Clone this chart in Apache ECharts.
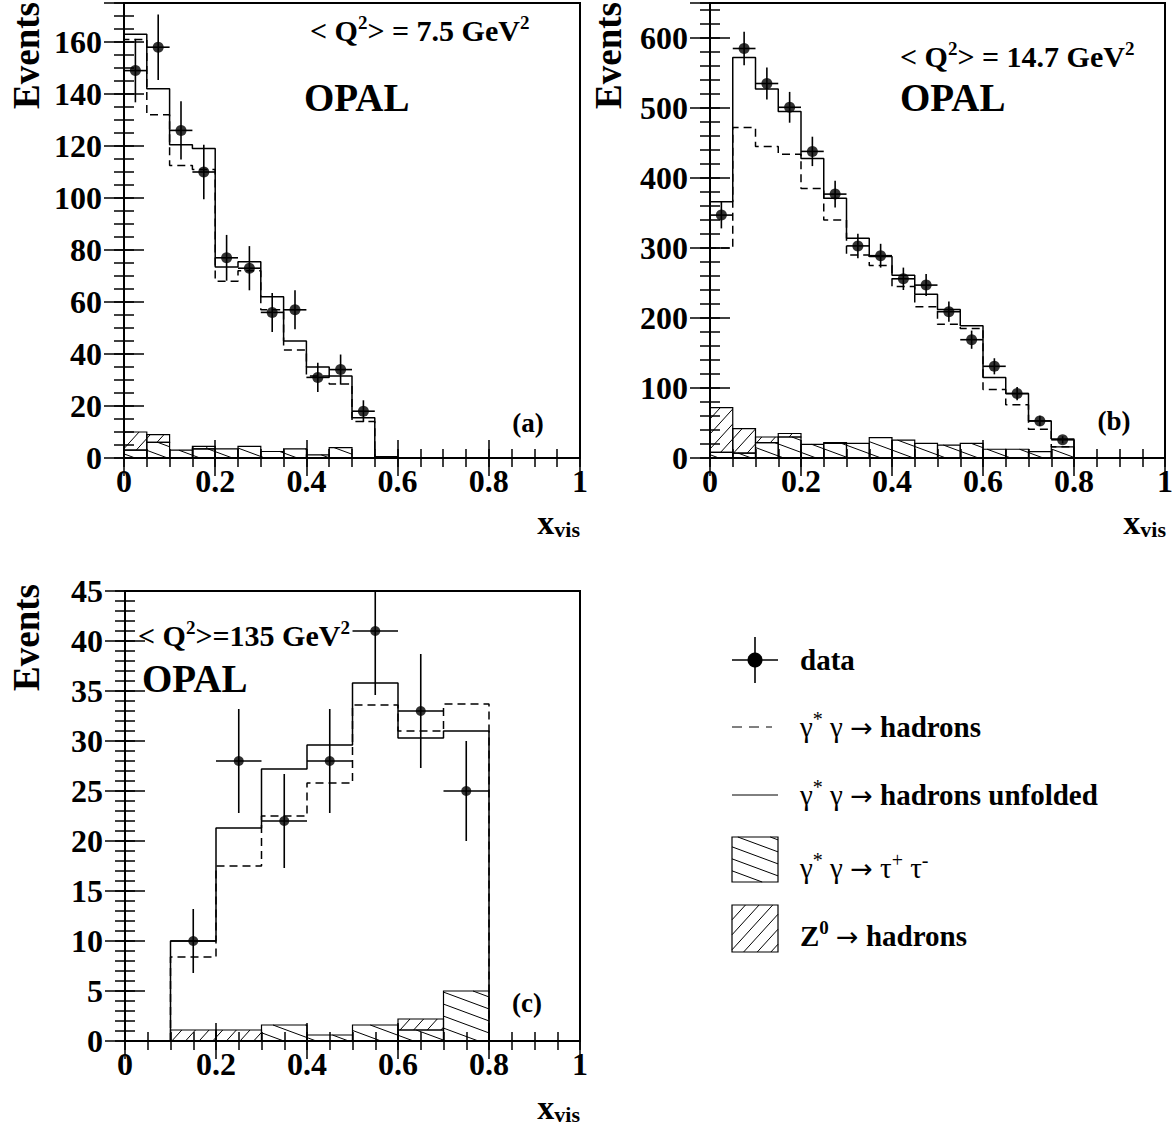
<!DOCTYPE html>
<html>
<head>
<meta charset="utf-8">
<script src="https://cdn.jsdelivr.net/npm/echarts@6/dist/echarts.min.js"></script>
<style>
  html, body { margin: 0; padding: 0; background: #fff; }
  #main { width: 1173px; height: 1128px; }
</style>
</head>
<body>
<div id="main"></div>
<script>
var SERIF = "'Liberation Serif','Times New Roman',serif";

// ---- panel (a): <Q2> = 7.5 GeV2, bins of 0.05 from 0 ----
var aStart = 0, aWidth = 0.05;
var aUnfolded = [163, 142, 120.5, 119, 73.5, 75.5, 62, 45, 35, 31.5, 15.5, 0.5];
var aHadrons  = [161, 132, 112.5, 111, 68, 72, 57, 41.5, 31.5, 28.5, 14, 0.5];
var aTau      = [3, 6, 3, 3.5, 3.5, 4.5, 2.5, 3.5, 1.2, 4, 0, 0];
var aZ0       = [7, 3, 0, 1, 0, 0, 0, 0, 0, 0, 0, 0];
var aData     = [149, 158, 126, 110, 77, 73, 56, 57, 31, 34, 18];
var aErr      = [12.2, 12.6, 11.2, 10.5, 8.8, 8.5, 7.5, 7.5, 5.6, 5.8, 4.2];

// ---- panel (b): <Q2> = 14.7 GeV2, bins of 0.05 from 0 ----
var bStart = 0, bWidth = 0.05;
var bUnfolded = [366, 572, 527, 495, 428, 371, 314, 288, 261, 234, 212, 189, 115, 92, 53, 27];
var bHadrons  = [300, 472, 445, 434, 385, 340, 290, 275, 245, 216, 191, 185, 98, 76, 41, 16];
var bTau      = [8, 7, 22, 30, 19.5, 21, 21, 29, 25.5, 21, 18.5, 21, 12.5, 12.5, 9, 16];
var bZ0       = [64, 35, 8, 5, 0, 1, 0, 0, 0, 0, 0, 0, 0, 0, 0, 0];
var bData     = [347, 585, 535, 501, 438, 377, 303, 289, 256, 247, 209, 169, 131, 92, 53, 26];
var bErr      = [19, 24, 23, 22, 21, 19, 17.5, 17, 16, 15.7, 14.5, 13, 11.5, 9.6, 7.3, 5.1];

// ---- panel (c): <Q2> = 135 GeV2, bins of 0.1 from 0.1 ----
var cStart = 0.1, cWidth = 0.1;
var cUnfolded = [10, 21.3, 27.2, 29.6, 35.8, 30.3, 31.0];
var cHadrons  = [8.4, 17.5, 22.5, 25.8, 33.6, 31.0, 33.7];
var cTau      = [0, 0, 1.6, 0.6, 1.6, 1.1, 5.0];
var cZ0       = [1.1, 1.1, 0, 0, 0, 1.1, 0];
var cData     = [10, 28, 22, 28, 41, 33, 25];
var cErr      = [3.2, 5.2, 4.7, 5.2, 6.4, 5.7, 5.0];

// axis ranges per panel
var yMax   = [175, 650, 45];
var yMajor = [20, 100, 5];
var yMinor = [5, 20, 1];

var panels = [
  { start: aStart, width: aWidth, unf: aUnfolded, had: aHadrons, tau: aTau, z0: aZ0, data: aData, err: aErr, dot: 11 },
  { start: bStart, width: bWidth, unf: bUnfolded, had: bHadrons, tau: bTau, z0: bZ0, data: bData, err: bErr, dot: 11 },
  { start: cStart, width: cWidth, unf: cUnfolded, had: cHadrons, tau: cTau, z0: cZ0, data: cData, err: cErr, dot: 10 }
];

var TAU_SLOPE = 0.37, TAU_GAP = 12;   // "\\" hatch
var Z0_SLOPE = -1.1, Z0_GAP = 15;     // "//" hatch

function histSteps(start, width, vals) {
  var pts = [[start, 0]];
  vals.forEach(function (v, i) {
    pts.push([start + i * width, v], [start + (i + 1) * width, v]);
  });
  pts.push([start + vals.length * width, 0]);
  return pts;
}

// lines y = slope*x + c clipped to the box, c on a common grid
function hatchLines(x0, y0, x1, y1, slope, gap) {
  var out = [];
  var cs = [y0 - slope * x0, y0 - slope * x1, y1 - slope * x0, y1 - slope * x1];
  var cMin = Math.min.apply(null, cs), cMax = Math.max.apply(null, cs);
  for (var c = Math.ceil(cMin / gap) * gap; c <= cMax; c += gap) {
    var xa = (y0 - c) / slope, xb = (y1 - c) / slope;
    var lo = Math.max(x0, Math.min(xa, xb)), hi = Math.min(x1, Math.max(xa, xb));
    if (hi - lo > 0.5) {
      out.push({ type: 'line', shape: { x1: lo, y1: slope * lo + c, x2: hi, y2: slope * hi + c },
                 style: { stroke: '#000', lineWidth: 1 } });
    }
  }
  return out;
}

function box(x0, y0, x1, y1) {
  return { type: 'rect', shape: { x: x0, y: y0, width: x1 - x0, height: y1 - y0 },
           style: { fill: 'none', stroke: '#000', lineWidth: 1.2 } };
}

function renderBkg(params, api) {
  var x0 = api.value(0), x1 = api.value(1), t = api.value(2), z = api.value(3);
  var pa = api.coord([x0, 0]), pb = api.coord([x1, t]), pc = api.coord([x1, t + z]);
  var kids = [];
  if (t > 0) {
    kids = kids.concat(hatchLines(pa[0], pb[1], pb[0], pa[1], TAU_SLOPE, TAU_GAP));
    kids.push(box(pa[0], pb[1], pb[0], pa[1]));
  }
  if (z > 0) {
    kids = kids.concat(hatchLines(pa[0], pc[1], pc[0], pb[1], Z0_SLOPE, Z0_GAP));
    kids.push(box(pa[0], pc[1], pc[0], pb[1]));
  }
  return { type: 'group', children: kids };
}

function renderErr(params, api) {
  var x = api.value(0), y = api.value(1), ex = api.value(2), ey = api.value(3);
  var l = api.coord([x - ex, y]), r = api.coord([x + ex, y]);
  var t = api.coord([x, y + ey]), b = api.coord([x, y - ey]);
  var st = { stroke: '#000', lineWidth: 1.6 };
  return { type: 'group', children: [
    { type: 'line', shape: { x1: l[0], y1: l[1], x2: r[0], y2: r[1] }, style: st },
    { type: 'line', shape: { x1: t[0], y1: t[1], x2: b[0], y2: b[1] }, style: st }
  ] };
}

var labelFont = { fontFamily: SERIF, fontWeight: 'bold', fontSize: 32, color: '#000' };

function makeAxis(g, pos, min, max, interval, len, withLabels, showMax) {
  var horiz = (pos === 'bottom' || pos === 'top');
  return {
    type: 'value', gridIndex: g, position: pos, min: min, max: max, interval: interval,
    axisLine: { show: false },
    splitLine: { show: false },
    axisTick: { show: true, inside: true, length: len, lineStyle: { color: '#000', width: 1.5 } },
    axisLabel: withLabels
      ? Object.assign({ show: true, margin: horiz ? 7 : 22, showMinLabel: true, showMaxLabel: showMax }, labelFont)
      : { show: false }
  };
}

var grids = [
  { left: 124, top: 3, width: 456, height: 455 },
  { left: 710, top: 3, width: 455, height: 455 },
  { left: 125, top: 591, width: 455, height: 450 }
];

var xAxes = [], yAxes = [], series = [];
grids.forEach(function (gr, g) {
  gr.show = true; gr.borderColor = '#000'; gr.borderWidth = 2; gr.backgroundColor = 'transparent';
  gr.outerBoundsMode = 'none';
  xAxes.push(makeAxis(g, 'bottom', 0, 1, 0.2, 18, true, true));
  xAxes.push(makeAxis(g, 'bottom', 0, 1, 0.05, 9, false));
  xAxes.push(makeAxis(g, 'top', 0, 1, 0.2, 18, false));
  xAxes.push(makeAxis(g, 'top', 0, 1, 0.05, 9, false));
  yAxes.push(makeAxis(g, 'left', 0, yMax[g], yMajor[g], 20, true, g === 2));
  yAxes.push(makeAxis(g, 'left', 0, yMax[g], yMinor[g], 10, false));
  yAxes.push(makeAxis(g, 'right', 0, yMax[g], yMajor[g], 20, false));
  yAxes.push(makeAxis(g, 'right', 0, yMax[g], yMinor[g], 10, false));

  var p = panels[g];
  var bkg = p.tau.map(function (t, i) {
    return [p.start + i * p.width, p.start + (i + 1) * p.width, t, p.z0[i]];
  });
  var pts = p.data.map(function (v, i) {
    return [p.start + (i + 0.5) * p.width, v, p.width / 2, p.err[i]];
  });
  var ax = { xAxisIndex: 4 * g, yAxisIndex: 4 * g };
  series.push(Object.assign({ type: 'custom', renderItem: renderBkg, data: bkg, clip: true, z: 2 }, ax));
  series.push(Object.assign({ type: 'line', data: histSteps(p.start, p.width, p.had), symbol: 'none',
    lineStyle: { color: '#000', width: 1.5, type: [8, 5] }, z: 3 }, ax));
  series.push(Object.assign({ type: 'line', data: histSteps(p.start, p.width, p.unf), symbol: 'none',
    lineStyle: { color: '#000', width: 1.5 }, z: 4 }, ax));
  series.push(Object.assign({ type: 'custom', renderItem: renderErr, data: pts, clip: true, z: 5 }, ax));
  series.push(Object.assign({ type: 'scatter', data: pts.map(function (d) { return [d[0], d[1]]; }),
    symbol: 'circle', symbolSize: p.dot, itemStyle: { color: '#000' }, z: 6 }, ax));
});

// ---- text and legend ----
function txt(x, y, text, rich, extra) {
  return Object.assign({ type: 'text', x: x, y: y, z: 50,
    style: Object.assign({ text: text, rich: rich, fill: '#000', align: 'left', verticalAlign: 'middle' }, extra || {}) });
}
var qRich = {
  t: { fontFamily: SERIF, fontWeight: 'bold', fontSize: 30, lineHeight: 34 },
  s: { fontFamily: SERIF, fontWeight: 'bold', fontSize: 19, lineHeight: 17, verticalAlign: 'top' }
};
var opalRich = { o: { fontFamily: SERIF, fontWeight: 'bold', fontSize: 39 } };
var tagRich = { o: { fontFamily: SERIF, fontWeight: 'bold', fontSize: 27 } };
var xRich = {
  x: { fontFamily: SERIF, fontWeight: 'bold', fontSize: 34, lineHeight: 36 },
  v: { fontFamily: SERIF, fontWeight: 'bold', fontSize: 22, lineHeight: 16, verticalAlign: 'bottom' }
};
var legRich = {
  g: { fontFamily: SERIF, fontSize: 29, lineHeight: 36 },
  a: { fontFamily: "'DejaVu Sans',sans-serif", fontSize: 27, lineHeight: 36 },
  b: { fontFamily: SERIF, fontWeight: 'bold', fontSize: 29, lineHeight: 36 },
  sup: { fontFamily: SERIF, fontSize: 20, lineHeight: 18, verticalAlign: 'top' },
  bsup: { fontFamily: SERIF, fontWeight: 'bold', fontSize: 19, lineHeight: 18, verticalAlign: 'top' }
};

function events(x, y) {
  return { type: 'text', x: x, y: y, rotation: Math.PI / 2, z: 50,
    style: { text: 'Events', fill: '#000', font: 'bold 37px ' + SERIF, align: 'right', verticalAlign: 'middle' } };
}

var graphics = [
  txt(310, 30, '{t|< Q}{s|2}{t|> = 7.5 GeV}{s|2}', qRich),
  txt(304, 97, '{o|OPAL}', opalRich),
  txt(528, 423, '{o|(a)}', tagRich, { align: 'center' }),
  txt(900, 56, '{t|< Q}{s|2}{t|> = 14.7 GeV}{s|2}', qRich),
  txt(900, 97, '{o|OPAL}', opalRich),
  txt(1114, 421, '{o|(b)}', tagRich, { align: 'center' }),
  txt(138, 635, '{t|< Q}{s|2}{t|>=135 GeV}{s|2}', qRich),
  txt(142, 678, '{o|OPAL}', opalRich),
  txt(527, 1003, '{o|(c)}', tagRich, { align: 'center' }),
  events(26, 2), events(608, 2), events(26, 584),
  txt(580, 522, '{x|x}{v|vis}', xRich, { align: 'right' }),
  txt(1166, 522, '{x|x}{v|vis}', xRich, { align: 'right' }),
  txt(580, 1107, '{x|x}{v|vis}', xRich, { align: 'right' }),

  // legend
  { type: 'line', shape: { x1: 732, y1: 660, x2: 778, y2: 660 }, style: { stroke: '#000', lineWidth: 1.6 } },
  { type: 'line', shape: { x1: 755, y1: 637, x2: 755, y2: 683 }, style: { stroke: '#000', lineWidth: 1.6 } },
  { type: 'circle', shape: { cx: 755, cy: 660, r: 7.5 }, style: { fill: '#000' } },
  txt(800, 660, '{b|data}', legRich),
  { type: 'line', shape: { x1: 732, y1: 727, x2: 772, y2: 727 }, style: { stroke: '#000', lineWidth: 1, lineDash: [10, 7] } },
  txt(800, 727, '{g|γ}{sup|*}{g| γ }{a|→}{b| hadrons}', legRich),
  { type: 'line', shape: { x1: 732, y1: 795, x2: 778, y2: 795 }, style: { stroke: '#000', lineWidth: 1 } },
  txt(800, 795, '{g|γ}{sup|*}{g| γ }{a|→}{b| hadrons unfolded}', legRich),
  { type: 'group', children: hatchLines(732, 837, 778, 882, TAU_SLOPE, TAU_GAP).concat([box(732, 837, 778, 882)]) },
  txt(800, 868, '{g|γ}{sup|*}{g| γ }{a|→}{g| τ}{sup|+}{g| τ}{sup|-}', legRich),
  { type: 'group', children: hatchLines(732, 905, 778, 952, Z0_SLOPE, Z0_GAP).concat([box(732, 905, 778, 952)]) },
  txt(800, 936, '{b|Z}{bsup|0}{g| }{a|→}{b| hadrons}', legRich)
];

var myChart = echarts.init(document.getElementById('main'), null, { renderer: 'svg' });
myChart.setOption({
  animation: false,
  backgroundColor: '#fff',
  grid: grids,
  xAxis: xAxes,
  yAxis: yAxes,
  series: series,
  graphic: graphics
});
</script>
</body>
</html>
